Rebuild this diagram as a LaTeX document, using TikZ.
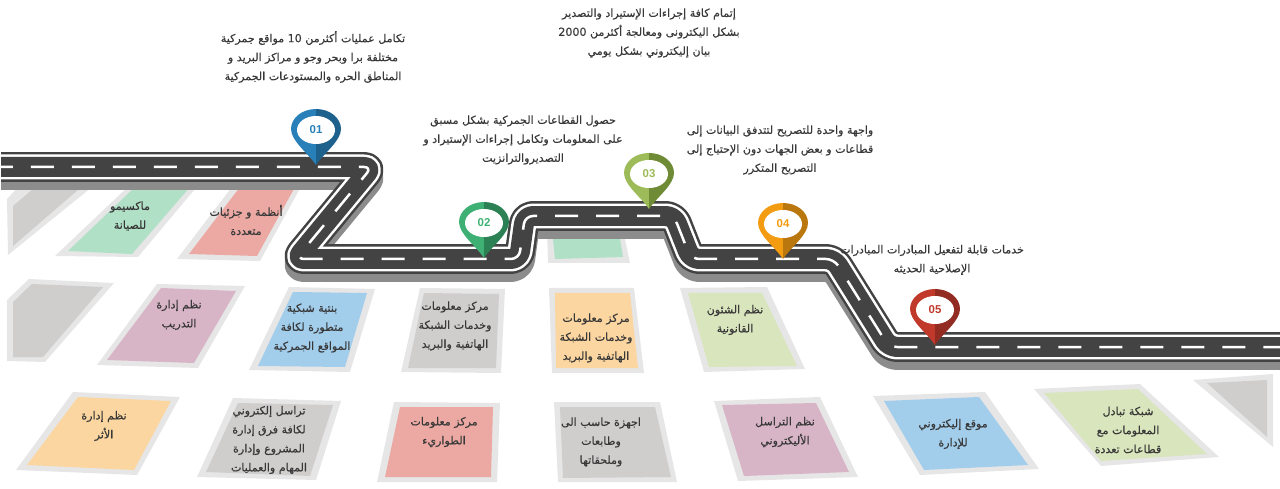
\documentclass[tikz,border=0pt]{standalone}
\usepackage{fontspec}
\usepackage{tikz}
\setmainfont{Liberation Sans}
\newfontfamily\arabicfont[Script=Arabic,FakeBold=0.4]{DejaVu Sans}
\TeXXeTstate=1
\newcommand{\ar}[1]{\beginR #1\endR}
\definecolor{rimgray}{HTML}{E6E6E6}
\definecolor{boxgray}{HTML}{D0CDCD}
\definecolor{boxmint}{HTML}{B0E0C6}
\definecolor{boxred}{HTML}{ECA9A3}
\definecolor{boxplum}{HTML}{D8B4C7}
\definecolor{boxblue}{HTML}{A2CDEB}
\definecolor{boxorange}{HTML}{FBD6A0}
\definecolor{boxlime}{HTML}{D9E5BC}
\definecolor{asphalt}{HTML}{434343}
\definecolor{labelgray}{HTML}{383838}
\definecolor{pinbluelight}{HTML}{2980B9}
\definecolor{pinbluedark}{HTML}{1F618D}
\definecolor{pingreenlight}{HTML}{3FB073}
\definecolor{pingreendark}{HTML}{2C8154}
\definecolor{pinlimelight}{HTML}{9DBB58}
\definecolor{pinlimedark}{HTML}{6F8B35}
\definecolor{pinorangelight}{HTML}{F39C12}
\definecolor{pinorangedark}{HTML}{B9770E}
\definecolor{pinredlight}{HTML}{C0392B}
\definecolor{pinreddark}{HTML}{922B21}
\tikzset{
  boxrim/.style={fill=rimgray},
  roadbase/.style={rounded corners=0.16cm, line join=round},
  roadshadow/.style={roadbase, draw=black!45, line width=0.6cm},
  roadedge/.style={roadbase, draw=asphalt, line width=0.6cm},
  roadwhite/.style={roadbase, draw=white, line width=0.5cm},
  roadtop/.style={roadbase, draw=asphalt, line width=0.4cm},
  roaddash/.style={roadbase, draw=white, line width=0.05cm, dash pattern=on 0.46cm off 0.36cm, dash phase=0.22cm},
  toptext/.style={font=\arabicfont\fontsize{6.3}{10.8}\selectfont, text=labelgray, align=center},
  boxtext/.style={font=\arabicfont\fontsize{6.3}{10.8}\selectfont, text=labelgray, align=center},
  pinnum/.style={font=\fontsize{6.5}{8}\selectfont\bfseries}
}
\def\roadline{(1,167) -- (372,167) -- (296,259) -- (519,259) -- (525,216) -- (674,216) -- (691,259) -- (834,259) -- (889,347) -- (1280,347)}
\newcommand{\mappin}[5]{
  \begin{scope}[shift={(#2)}]
    \fill[#3] (0,0) .. controls (-8,-12) and (-25,-24) .. (-25,-36) .. controls (-25,-47) and (-14,-56) .. (0,-56) -- cycle;
    \fill[#4] (0,0) .. controls (8,-12) and (25,-24) .. (25,-36) .. controls (25,-47) and (14,-56) .. (0,-56) -- cycle;
    \fill[white] (0,-35) ellipse [x radius=19, y radius=14];
    \node[pinnum, text=#3] (#1) at (0,-35) {#5};
  \end{scope}
}
\begin{document}
\begin{tikzpicture}[x=0.02cm, y=-0.02cm]
  \useasboundingbox (0,0) rectangle (1280,489);
  % row under the first road section
  \fill[boxrim] (7,199) -- (22,183) -- (97,183) -- (8,255) -- cycle;
  \fill[boxgray] (13,206) -- (33,189) -- (79,189) -- (13,246) -- cycle;
  \fill[boxrim] (132,183) -- (200,183) -- (138,257) -- (55,256) -- cycle;
  \fill[boxmint] (135,187) -- (190,187) -- (132,254) -- (68,251) -- cycle;
  \fill[boxrim] (235,183) -- (303,183) -- (260,261) -- (177,259) -- cycle;
  \fill[boxred] (240,187) -- (295,187) -- (257,256) -- (189,254) -- cycle;
  \fill[boxrim] (547,230) -- (623,230) -- (630,263) -- (548,263) -- cycle;
  \fill[boxmint] (553,239) -- (620,239) -- (623,257) -- (555,259) -- cycle;
  % middle row
  \fill[boxrim] (7,300) -- (29,279) -- (114,283) -- (45,362) -- (7,361) -- cycle;
  \fill[boxgray] (13,302) -- (32,284) -- (103,287) -- (43,357) -- (13,357) -- cycle;
  \fill[boxrim] (157,284) -- (245,286) -- (198,368) -- (97,365) -- cycle;
  \fill[boxplum] (161,288) -- (236,291) -- (194,363) -- (107,360) -- cycle;
  \fill[boxrim] (289,287) -- (375,289) -- (350,372) -- (249,370) -- cycle;
  \fill[boxblue] (293,292) -- (367,293) -- (345,367) -- (258,366) -- cycle;
  \fill[boxrim] (420,288) -- (505,289) -- (501,373) -- (401,372) -- cycle;
  \fill[boxgray] (424,293) -- (499,294) -- (496,368) -- (408,368) -- cycle;
  \fill[boxrim] (549,288) -- (634,288) -- (644,373) -- (552,373) -- cycle;
  \fill[boxorange] (555,293) -- (630,293) -- (638,368) -- (556,368) -- cycle;
  \fill[boxrim] (680,288) -- (767,287) -- (805,369) -- (704,372) -- cycle;
  \fill[boxlime] (688,293) -- (762,293) -- (797,366) -- (709,367) -- cycle;
  % bottom row
  \fill[boxrim] (73,392) -- (180,397) -- (137,475) -- (16,470) -- cycle;
  \fill[boxorange] (78,397) -- (171,401) -- (134,470) -- (27,465) -- cycle;
  \fill[boxrim] (233,398) -- (341,401) -- (316,480) -- (197,477) -- cycle;
  \fill[boxgray] (238,403) -- (333,405) -- (310,476) -- (206,472) -- cycle;
  \fill[boxrim] (394,402) -- (500,403) -- (497,482) -- (377,482) -- cycle;
  \fill[boxred] (400,407) -- (493,407) -- (491,477) -- (385,477) -- cycle;
  \fill[boxrim] (554,402) -- (660,402) -- (677,482) -- (558,482) -- cycle;
  \fill[boxgray] (560,407) -- (655,407) -- (671,477) -- (563,478) -- cycle;
  \fill[boxrim] (714,401) -- (820,397) -- (858,477) -- (738,481) -- cycle;
  \fill[boxplum] (722,405) -- (816,403) -- (849,472) -- (744,476) -- cycle;
  \fill[boxrim] (873,396) -- (985,392) -- (1039,469) -- (920,475) -- cycle;
  \fill[boxblue] (884,401) -- (979,397) -- (1028,465) -- (924,470) -- cycle;
  \fill[boxrim] (1034,389) -- (1140,384) -- (1219,457) -- (1101,466) -- cycle;
  \fill[boxlime] (1044,393) -- (1138,389) -- (1207,454) -- (1101,461) -- cycle;
  \fill[boxrim] (1193,380) -- (1273,374) -- (1273,447) -- cycle;
  \fill[boxgray] (1207,383) -- (1267,380) -- (1267,437) -- cycle;
  % road
  \draw[roadshadow, shift={(0,8)}] \roadline;
  \draw[roadedge] \roadline;
  \draw[roadwhite] \roadline;
  \draw[roadtop] \roadline;
  \draw[roaddash] \roadline;
  % pins
  \mappin{pinone}{316,165}{pinbluelight}{pinbluedark}{01}
  \mappin{pintwo}{484,258}{pingreenlight}{pingreendark}{02}
  \mappin{pinthree}{649,209}{pinlimelight}{pinlimedark}{03}
  \mappin{pinfour}{783,259}{pinorangelight}{pinorangedark}{04}
  \mappin{pinfive}{935,345}{pinredlight}{pinreddark}{05}
  % texts above the road
  \node[toptext] (goalone) at (313,57) {\ar{تكامل عمليات أكثرمن \beginL 10\endL{} مواقع جمركية}\\\ar{مختلفة برا وبحر وجو و مراكز البريد و}\\\ar{المناطق الحره والمستودعات الجمركية}};
  \node[toptext] (goaltop) at (649,33) {\ar{إتمام كافة إجراءات الإستيراد والتصدير}\\\ar{بشكل اليكترونى ومعالجة أكثرمن \beginL 2000\endL}\\\ar{بيان إليكتروني بشكل يومي}};
  \node[toptext] (goaltwo) at (523,140) {\ar{حصول القطاعات الجمركية بشكل مسبق}\\\ar{على المعلومات وتكامل إجراءات الإستيراد و}\\\ar{التصديروالترانزيت}};
  \node[toptext] (goalfour) at (780,150) {\ar{واجهة واحدة للتصريح لتتدفق البيانات إلى}\\\ar{قطاعات و بعض الجهات دون الإحتياج إلى}\\\ar{التصريح المتكرر}};
  \node[toptext] (goalfive) at (932,260) {\ar{خدمات قابلة لتفعيل المبادرات المبادرات}\\\ar{الإصلاحية الحديثه}};
  % texts in the boxes
  \node[boxtext] (maint) at (130,216) {\ar{ماكسيمو}\\\ar{للصيانة}};
  \node[boxtext] (parts) at (246,220) {\ar{أنظمة و جزئيات}\\\ar{متعددة}};
  \node[boxtext] (train) at (179,315) {\ar{نظم إدارة}\\\ar{التدريب}};
  \node[boxtext] (network) at (312,328) {\ar{بنتية شبكية}\\\ar{متطورة لكافة}\\\ar{المواقع الجمركية}};
  \node[boxtext] (datacenter) at (455,326) {\ar{مركز معلومات}\\\ar{وخدمات الشبكة}\\\ar{الهاتفية والبريد}};
  \node[boxtext] (dataphone) at (596,338) {\ar{مركز معلومات}\\\ar{وخدمات الشبكة}\\\ar{الهاتفية والبريد}};
  \node[boxtext] (legal) at (735,320) {\ar{نظم الشئون}\\\ar{القانونية}};
  \node[boxtext] (heritage) at (104,426) {\ar{نظم إدارة}\\\ar{الأثر}};
  \node[boxtext] (mailteam) at (269,440) {\ar{تراسل إلكتروني}\\\ar{لكافة فرق إدارة}\\\ar{المشروع وإدارة}\\\ar{المهام والعمليات}};
  \node[boxtext] (backup) at (444,432) {\ar{مركز معلومات}\\\ar{الطواريء}};
  \node[boxtext] (devices) at (601,442) {\ar{اجهزة حاسب الى}\\\ar{وطابعات}\\\ar{وملحقاتها}};
  \node[boxtext] (mail) at (785,432) {\ar{نظم التراسل}\\\ar{الأليكتروني}};
  \node[boxtext] (website) at (953,434) {\ar{موقع إليكتروني}\\\ar{للإدارة}};
  \node[boxtext] (exchange) at (1128,430) {\ar{شبكة تبادل}\\\ar{المعلومات مع}\\\ar{قطاعات تعددة}};
\end{tikzpicture}
\end{document}
